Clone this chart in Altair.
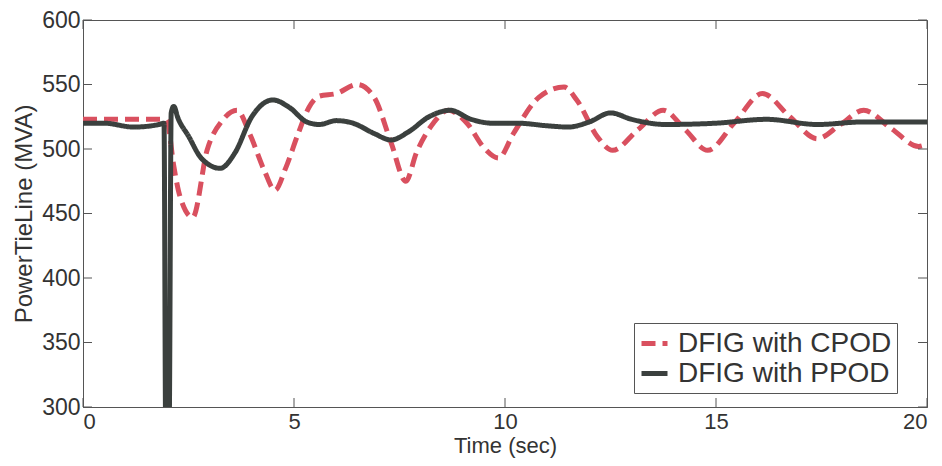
import altair as alt
import pandas as pd

# ---- data ----
cpod_t = [0, 1.95, 2.0, 2.15, 2.3, 2.6, 2.94, 3.3, 3.65, 3.96, 4.3, 4.55, 4.8, 5.1,
          5.35, 5.6, 6.0, 6.5, 6.9, 7.3, 7.65, 7.9, 8.3, 8.65, 9.1, 9.5, 9.85, 10.2,
          10.8, 11.4, 11.7, 12.2, 12.55, 13.15, 13.75, 14.27, 14.8, 15.45, 16.1,
          16.75, 17.4, 17.95, 18.5, 19.15, 19.8, 20]
cpod_v = [523, 523, 521, 487, 463, 447, 499, 522, 530, 511, 483, 468, 485, 512,
          532, 541, 543, 550, 540, 505, 475, 497, 520, 530, 520, 501, 493, 512,
          540, 548, 538, 509, 499, 515, 530, 515, 499, 521, 543,
          525, 508, 519, 530, 516, 502, 504]

ppod_t = [0, 0.5, 1.2, 1.8, 1.92, 1.96, 2.04, 2.09, 2.15, 2.25, 2.5, 2.8, 3.25, 3.6,
          4.0, 4.5, 4.9, 5.3, 5.6, 6.0, 6.4, 6.9, 7.3, 7.7, 8.2, 8.7, 9.2, 9.7, 10.3,
          11.0, 11.5, 12.0, 12.5, 13.0, 13.8, 15.0, 16.2, 17.4, 18.5, 20]
ppod_v = [520, 520, 517, 519, 520, 280, 280, 528, 533, 524, 510, 493, 485, 497,
          525, 538, 532, 521, 519, 522, 520, 512, 507, 513, 525, 530, 523, 520, 520,
          518, 517, 521, 528, 523, 519, 520, 523, 519, 521, 521]

series_names = ["DFIG with CPOD", "DFIG with PPOD"]
series_colors = ["#d9505f", "#3b403e"]
x_ticks = [0, 5, 10, 15, 20]
y_ticks = [300, 350, 400, 450, 500, 550, 600]

df = pd.concat([
    pd.DataFrame({"t": cpod_t, "v": cpod_v, "series": series_names[0], "order": range(len(cpod_t))}),
    pd.DataFrame({"t": ppod_t, "v": ppod_v, "series": series_names[1], "order": range(len(ppod_t))}),
])

W, H = 844, 387
FONT = "Liberation Sans"

xscale = alt.Scale(domain=[0, 20], nice=False, zero=False)
yscale = alt.Scale(domain=[300, 600], nice=False, zero=False)

legend_kw = dict(title=None, orient="none", legendX=551, legendY=303,
                 symbolType="stroke", symbolSize=676, symbolStrokeWidth=5,
                 labelFontSize=28, labelFont=FONT, labelColor="#333",
                 fillColor="white", strokeColor="#555", padding=5, rowPadding=0,
                 labelOffset=8, labelLimit=400)

lines = alt.Chart(df).mark_line(strokeWidth=5, clip=True, interpolate="monotone").encode(
    x=alt.X("t:Q", scale=xscale,
            axis=alt.Axis(title="Time (sec)", values=x_ticks, ticks=False, labelPadding=4,
                          titleY=45, titleBaseline="alphabetic", format="d")),
    y=alt.Y("v:Q", scale=yscale,
            axis=alt.Axis(title="PowerTieLine (MVA)", values=y_ticks, ticks=False,
                          labelPadding=3, titlePadding=5, format="d")),
    order="order:Q",
    color=alt.Color("series:N",
                    scale=alt.Scale(domain=series_names, range=series_colors),
                    legend=alt.Legend(**legend_kw)),
    strokeDash=alt.StrokeDash("series:N",
                              scale=alt.Scale(domain=series_names, range=[[14, 7], [1, 0]]),
                              legend=alt.Legend(**legend_kw)),
)

xt = pd.DataFrame({"t": x_ticks})
yt = pd.DataFrame({"v": y_ticks})
tick_color = "#555"
bottom_ticks = alt.Chart(xt).mark_rule(color=tick_color).encode(
    x=alt.X("t:Q", scale=xscale), y=alt.value(H), y2=alt.value(H - 9))
top_ticks = alt.Chart(xt).mark_rule(color=tick_color).encode(
    x=alt.X("t:Q", scale=xscale), y=alt.value(0), y2=alt.value(9))
left_ticks = alt.Chart(yt).mark_rule(color=tick_color).encode(
    y=alt.Y("v:Q", scale=yscale), x=alt.value(0), x2=alt.value(9))
right_ticks = alt.Chart(yt).mark_rule(color=tick_color).encode(
    y=alt.Y("v:Q", scale=yscale), x=alt.value(W), x2=alt.value(W - 9))

chart = alt.layer(lines, bottom_ticks, top_ticks, left_ticks, right_ticks).properties(
    width=W, height=H,
    autosize=alt.AutoSizeParams(type="none"),
    padding={"left": 75, "top": 12, "right": 7, "bottom": 51},
    background="white",
).configure_view(
    stroke="#555", strokeWidth=1
).configure_axis(
    grid=False, domainColor="#555", domainWidth=1,
    labelFont=FONT, labelFontSize=23, labelColor="#333",
    titleFont=FONT, titleFontWeight="normal", titleColor="#333",
).configure_axisX(
    titleFontSize=22, labelFontSize=22
).configure_axisY(
    titleFontSize=24
)

chart.save("out.html", embed_options={"renderer": "svg", "actions": False})
